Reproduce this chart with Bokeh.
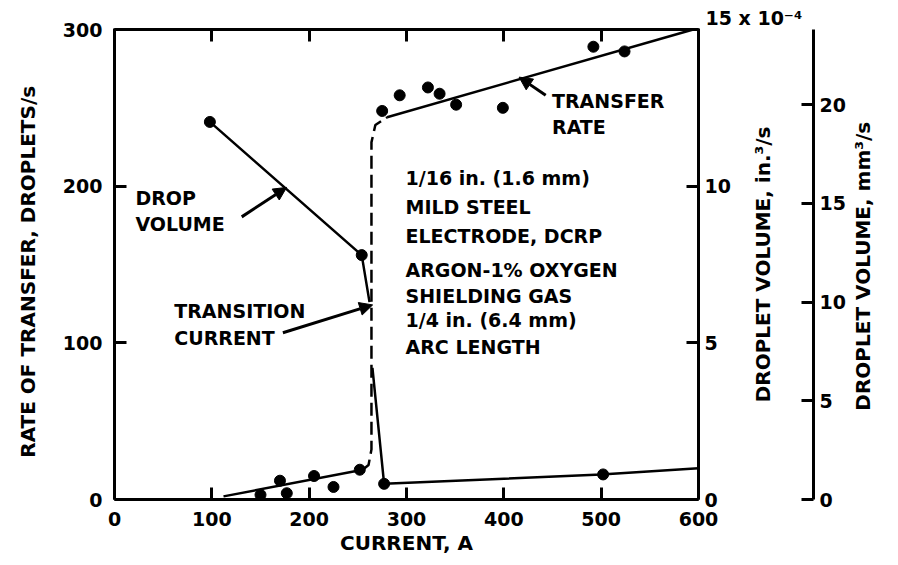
import math
from bokeh.plotting import figure
from bokeh.models import LinearAxis, Range1d, FixedTicker, Label, Arrow, NormalHead
from bokeh.embed import file_html
from bokeh.resources import INLINE

# ---------------- data ----------------
current_ticks = [0, 100, 200, 300, 400, 500, 600]
rate_ticks = [0, 100, 200, 300]
vol_in_ticks = [0, 5, 10, 15]
vol_mm_ticks = [0, 5, 10, 15, 20]

# transfer rate, droplets/s : measured points
rate_pts_current = [150, 170, 177, 205, 225, 252, 275, 293, 322, 334, 351, 399, 492, 524]
rate_pts_value = [3, 12, 4, 15, 8, 19, 248, 258, 263, 259, 252, 250, 289, 286]

# transfer rate curve: globular branch, transition (dashed), spray branch
rate_low_current = [112, 255]
rate_low_value = [2, 19]
rate_trans_current = [255, 261, 264, 264, 268, 280]
rate_trans_value = [19, 22, 32, 228, 239, 244]
rate_high_current = [280, 600]
rate_high_value = [244, 301]

# drop volume, x 10^-4 in^3/s
vol_line_current = [98, 254, 262]
vol_line_value = [12.05, 7.8, 6.3]
vol2_line_current = [265, 277, 500, 600]
vol2_line_value = [4.2, 0.5, 0.8, 1.0]
vol_pts_current = [98, 254, 277, 502]
vol_pts_value = [12.05, 7.8, 0.5, 0.8]

vol_in_max = 15
vol_mm_max = 23.8

# ---------------- figure ----------------
FONT = "DejaVu Sans"
FS = "19px"
FS_AX = "20px"

p = figure(width=890, height=557, x_range=Range1d(0, 600), y_range=Range1d(0, 300),
           output_backend="svg", toolbar_location=None,
           x_axis_location=None, y_axis_location=None,
           min_border_left=114, min_border_right=190, min_border_top=29, min_border_bottom=57)
p.extra_y_ranges = {"vol": Range1d(0, vol_in_max), "mm": Range1d(0, vol_mm_max)}
p.outline_line_color = None
p.background_fill_color = "white"
p.border_fill_color = "white"
p.xgrid.grid_line_color = None
p.ygrid.grid_line_color = None

p.title.text = "15 x 10⁻⁴"
p.title.align = "left"
p.title.offset = 591
p.title.standoff = 0
p.title.text_font = FONT
p.title.text_font_style = "bold"
p.title.text_font_size = FS
p.title.text_color = "black"


def style(ax, tick_in=12):
    ax.axis_line_width = 3
    ax.axis_line_color = "black"
    ax.major_tick_line_width = 3
    ax.major_tick_line_color = "black"
    ax.major_tick_in = tick_in
    ax.major_tick_out = 0
    ax.minor_tick_line_color = None
    ax.minor_tick_in = 0
    ax.minor_tick_out = 0
    ax.major_label_text_font = FONT
    ax.major_label_text_font_style = "bold"
    ax.major_label_text_font_size = FS
    ax.major_label_text_color = "black"
    ax.axis_label_text_font = FONT
    ax.axis_label_text_font_style = "bold"
    ax.axis_label_text_font_size = FS_AX
    ax.axis_label_text_color = "black"
    return ax


def label_axis(range_name, start, text, standoff):
    """An axis used only to write a bottom-to-top title beside another axis."""
    ax = LinearAxis(y_range_name=range_name, ticker=FixedTicker(ticks=[start]),
                    major_label_overrides={start: text},
                    major_label_orientation=math.pi / 2,
                    major_label_standoff=standoff,
                    axis_line_color=None, major_tick_line_color=None,
                    major_tick_in=0, major_tick_out=0,
                    minor_tick_line_color=None, minor_tick_in=0, minor_tick_out=0)
    ax.major_label_text_font = FONT
    ax.major_label_text_font_style = "bold"
    ax.major_label_text_font_size = FS_AX
    ax.major_label_text_color = "black"
    return ax


xb = style(LinearAxis(ticker=FixedTicker(ticks=current_ticks), axis_label="CURRENT, A",
                      major_label_standoff=12, axis_label_standoff=2))
p.add_layout(xb, "below")

xt = style(LinearAxis(ticker=FixedTicker(ticks=current_ticks), major_label_standoff=0))
xt.major_label_text_color = None
xt.major_label_text_font_size = "1px"
xt.major_tick_out = 1
p.add_layout(xt, "above")

yl = style(LinearAxis(ticker=FixedTicker(ticks=rate_ticks), major_label_standoff=12))
p.add_layout(yl, "left")

p.add_layout(label_axis("default", 264, "RATE OF TRANSFER, DROPLETS/s", 31), "left")

yr1 = style(LinearAxis(y_range_name="vol", ticker=FixedTicker(ticks=vol_in_ticks),
                       major_label_overrides={15: ""}, major_label_standoff=6))
p.add_layout(yr1, "right")

p.add_layout(label_axis("vol", 3.1, "DROPLET VOLUME, in.³/s", 30), "right")

spacer = LinearAxis(y_range_name="vol", ticker=FixedTicker(ticks=[7.5]),
                    major_label_overrides={7.5: ""}, major_label_text_color=None,
                    axis_line_color=None, major_tick_in=0, major_tick_out=23,
                    major_tick_line_color=None, minor_tick_line_color=None,
                    minor_tick_in=0, minor_tick_out=0, major_label_standoff=0)
p.add_layout(spacer, "right")

yr2 = style(LinearAxis(y_range_name="mm", ticker=FixedTicker(ticks=vol_mm_ticks),
                       major_label_standoff=6))
p.add_layout(yr2, "right")

p.add_layout(label_axis("mm", 4.5, "DROPLET VOLUME, mm³/s", 15), "right")

# ---------------- curves ----------------
LW = 2.5
p.line(rate_low_current, rate_low_value, line_width=LW, line_color="black")
p.line(rate_trans_current, rate_trans_value, line_width=LW, line_color="black", line_dash="13 6")
p.line(rate_high_current, rate_high_value, line_width=LW, line_color="black")
p.scatter(rate_pts_current, rate_pts_value, size=11, marker="circle",
          fill_color="black", line_color="black")

p.line(vol_line_current, vol_line_value, y_range_name="vol", line_width=LW, line_color="black")
p.line(vol2_line_current, vol2_line_value, y_range_name="vol", line_width=LW, line_color="black")
p.scatter(vol_pts_current, vol_pts_value, y_range_name="vol", size=11, marker="circle",
          fill_color="black", line_color="black")

# ---------------- annotations ----------------
def lab(x, y, text):
    p.add_layout(Label(x=x, y=y, text=text, text_font=FONT, text_font_style="bold",
                       text_font_size=FS, text_color="black", text_baseline="middle",
                       text_align="left"))


lab(21.5, 192.4, "DROP")
lab(21.5, 175.8, "VOLUME")
lab(61.4, 120.4, "TRANSITION")
lab(61.4, 103.2, "CURRENT")
lab(449.5, 254.1, "TRANSFER")
lab(449.5, 237.6, "RATE")

block = ["1/16 in. (1.6 mm)", "MILD STEEL", "ELECTRODE, DCRP",
         "ARGON-1% OXYGEN", "SHIELDING GAS", "1/4 in. (6.4 mm)", "ARC LENGTH"]
block_y = [205.1, 186.6, 168.2, 146.5, 129.9, 114.6, 97.5]
for t, yy in zip(block, block_y):
    lab(299, yy, t)

for xs, ys, xe, ye in [(130.7, 180.4, 176.8, 199.2),
                       (173.0, 106.4, 265.2, 124.2),
                       (443.0, 258.0, 415.7, 269.6)]:
    p.add_layout(Arrow(end=NormalHead(size=13, fill_color="black", line_color="black", line_width=1),
                       x_start=xs, y_start=ys, x_end=xe, y_end=ye,
                       line_width=3, line_color="black"))

open("out.html", "w").write(file_html(p, INLINE))
